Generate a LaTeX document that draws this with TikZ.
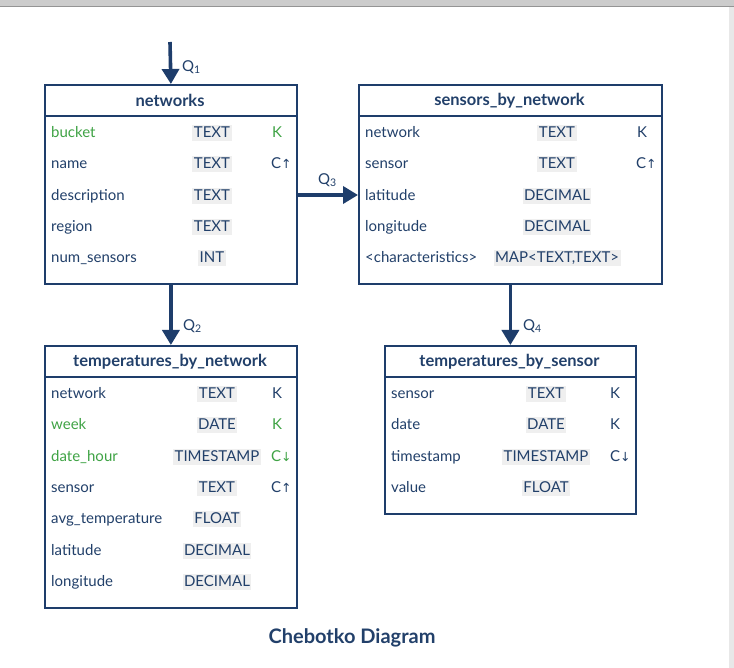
\documentclass[tikz,border=0pt]{standalone}
\usepackage{fontspec}
\setmainfont{Lato}
\newfontfamily\arrowfont{DejaVu Sans}
\usetikzlibrary{arrows.meta,calc}
\definecolor{navy}{HTML}{1E3D6B}
\definecolor{txt}{HTML}{22406A}
\definecolor{grn}{HTML}{3FA345}
\definecolor{typebg}{HTML}{EFEFEF}
\begin{document}
\begin{tikzpicture}[x=1pt,y=-1pt,
  table/.style={draw=navy,line width=1.8pt,anchor=north west,inner sep=0pt},
  hdr/.style={font=\fontsize{16.5}{18}\selectfont\bfseries,text=txt,anchor=center},
  fname/.style={font=\fontsize{15}{17}\selectfont,text=txt,anchor=base west,inner sep=0pt,yshift=-5.8pt},
  ftype/.style={font=\fontsize{15}{17}\selectfont,text=txt,fill=typebg,inner xsep=1.5pt,inner ysep=1.8pt,text height=10.8pt,text depth=1.5pt,anchor=base,yshift=-5.8pt},
  fkey/.style={font=\fontsize{15}{17}\selectfont,text=txt,anchor=base west,inner sep=0pt,yshift=-5.8pt},
  gr/.style={text=grn},
  arr/.style={draw=navy,line width=3.6pt,-{Triangle[length=15pt,width=17pt]}},
  qlab/.style={font=\fontsize{15}{17}\selectfont,text=txt,anchor=west,inner sep=0pt}]
\useasboundingbox (0,0) rectangle (734,668);
\fill[white] (0,0) rectangle (734,668);
% window chrome
\fill[black!20] (0,0) rectangle (734,7);
\draw[black!42,line width=1pt] (0,7) -- (734,7);
\fill[black!9] (729,7.5) rectangle (734,668);

\newcommand{\Cup}{C{\arrowfont\fontsize{12.5}{14}\selectfont↑}}
\newcommand{\Cdn}{C{\arrowfont\fontsize{12.5}{14}\selectfont↓}}

% ---------- networks ----------
\node[table,minimum width=252pt,minimum height=199pt] (net) at (44,84) {};
\draw[navy,line width=1.5pt] (44,116) -- (296,116);
\node[hdr] (net-h) at (170,100.5) {networks};
\node[fname,gr] (net-n1) at (51,132) {bucket};
\node[fname] (net-n2) at (51,163) {name};
\node[fname] (net-n3) at (51,195) {description};
\node[fname] (net-n4) at (51,226) {region};
\node[fname] (net-n5) at (51,257) {num\_sensors};
\node[ftype] (net-t1) at (212,132) {TEXT};
\node[ftype] (net-t2) at (212,163) {TEXT};
\node[ftype] (net-t3) at (212,195) {TEXT};
\node[ftype] (net-t4) at (212,226) {TEXT};
\node[ftype] (net-t5) at (212,257) {INT};
\node[fkey,gr] (net-k1) at (272,132) {K};
\node[fkey] (net-k2) at (271,163) {\Cup};

% ---------- sensors_by_network ----------
\node[table,minimum width=303pt,minimum height=199pt] (sbn) at (358,84) {};
\draw[navy,line width=1.5pt] (358,116) -- (661,116);
\node[hdr] (sbn-h) at (509.5,100.5) {sensors\_by\_network};
\node[fname] (sbn-n1) at (365,132) {network};
\node[fname] (sbn-n2) at (365,163) {sensor};
\node[fname] (sbn-n3) at (365,195) {latitude};
\node[fname] (sbn-n4) at (365,226) {longitude};
\node[fname] (sbn-n5) at (365,257) {<characteristics>};
\node[ftype] (sbn-t1) at (557,132) {TEXT};
\node[ftype] (sbn-t2) at (557,163) {TEXT};
\node[ftype] (sbn-t3) at (557,195) {DECIMAL};
\node[ftype] (sbn-t4) at (557,226) {DECIMAL};
\node[ftype] (sbn-t5) at (557,257) {MAP<TEXT,TEXT>};
\node[fkey] (sbn-k1) at (637,132) {K};
\node[fkey] (sbn-k2) at (636,163) {\Cup};

% ---------- temperatures_by_network ----------
\node[table,minimum width=252pt,minimum height=262pt] (tbn) at (44,345) {};
\draw[navy,line width=1.5pt] (44,377) -- (296,377);
\node[hdr] (tbn-h) at (170,361.5) {temperatures\_by\_network};
\node[fname] (tbn-n1) at (51,393) {network};
\node[fname,gr] (tbn-n2) at (51,424) {week};
\node[fname,gr] (tbn-n3) at (51,456) {date\_hour};
\node[fname] (tbn-n4) at (51,487) {sensor};
\node[fname] (tbn-n5) at (51,518) {avg\_temperature};
\node[fname] (tbn-n6) at (51,550) {latitude};
\node[fname] (tbn-n7) at (51,581) {longitude};
\node[ftype] (tbn-t1) at (217,393) {TEXT};
\node[ftype] (tbn-t2) at (217,424) {DATE};
\node[ftype] (tbn-t3) at (217,456) {TIMESTAMP};
\node[ftype] (tbn-t4) at (217,487) {TEXT};
\node[ftype] (tbn-t5) at (217,518) {FLOAT};
\node[ftype] (tbn-t6) at (217,550) {DECIMAL};
\node[ftype] (tbn-t7) at (217,581) {DECIMAL};
\node[fkey] (tbn-k1) at (272,393) {K};
\node[fkey,gr] (tbn-k2) at (272,424) {K};
\node[fkey,gr] (tbn-k3) at (271,456) {\Cdn};
\node[fkey] (tbn-k4) at (271,487) {\Cup};

% ---------- temperatures_by_sensor ----------
\node[table,minimum width=251pt,minimum height=168pt] (tbs) at (384,345) {};
\draw[navy,line width=1.5pt] (384,377) -- (635,377);
\node[hdr] (tbs-h) at (509.5,361.5) {temperatures\_by\_sensor};
\node[fname] (tbs-n1) at (391,393) {sensor};
\node[fname] (tbs-n2) at (391,424) {date};
\node[fname] (tbs-n3) at (391,456) {timestamp};
\node[fname] (tbs-n4) at (391,487) {value};
\node[ftype] (tbs-t1) at (546,393) {TEXT};
\node[ftype] (tbs-t2) at (546,424) {DATE};
\node[ftype] (tbs-t3) at (546,456) {TIMESTAMP};
\node[ftype] (tbs-t4) at (546,487) {FLOAT};
\node[fkey] (tbs-k1) at (610,393) {K};
\node[fkey] (tbs-k2) at (610,424) {K};
\node[fkey] (tbs-k3) at (610,456) {\Cdn};

% ---------- connectors ----------
\coordinate (q1start) at (170,42);
\coordinate (q3row) at (0,195);
\draw[arr] (q1start) -- (net.north);
\node[qlab] (q1) at (182,67) {Q\textsubscript{1}};
\draw[arr] (net.south) -- (tbn.north);
\node[qlab] (q2) at (183,326) {Q\textsubscript{2}};
\draw[arr] (net.east |- q3row) -- (sbn.west |- q3row);
\node[qlab] (q3) at (318,180) {Q\textsubscript{3}};
\draw[arr] (sbn.south) -- (tbs.north);
\node[qlab] (q4) at (523,326) {Q\textsubscript{4}};

% caption
\node[font=\fontsize{20}{22}\selectfont\bfseries,text=txt] (cap) at (352,638) {Chebotko Diagram};
\end{tikzpicture}
\end{document}
